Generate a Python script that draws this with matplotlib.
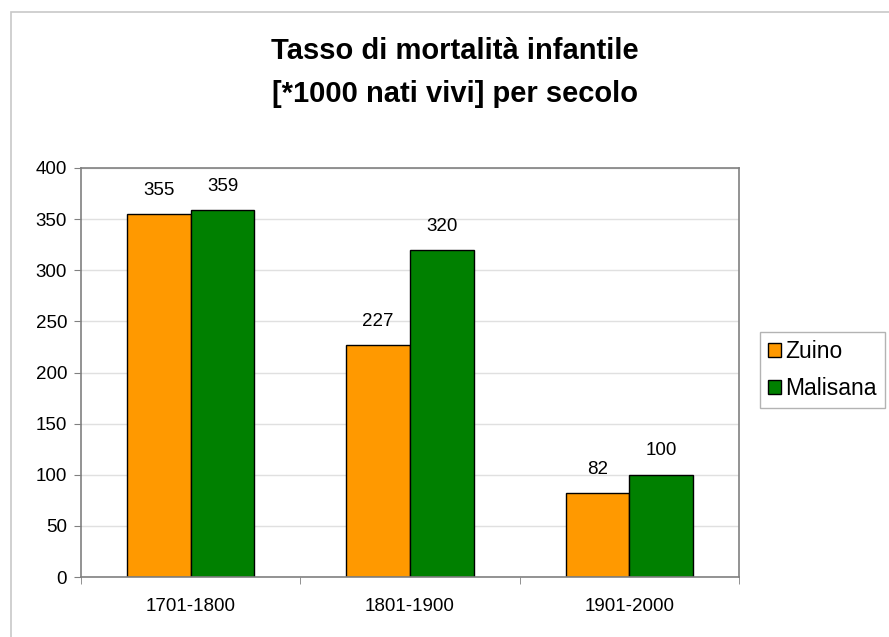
import matplotlib
matplotlib.use("Agg")
import matplotlib.pyplot as plt
import numpy as np
from matplotlib.patches import Rectangle

plt.rcParams['font.family'] = ['Liberation Sans', 'DejaVu Sans']

categories = ["1701-1800", "1801-1900", "1901-2000"]
series_names = ["Zuino", "Malisana"]
zuino = [355, 227, 82]
malisana = [359, 320, 100]
yticks = [0, 50, 100, 150, 200, 250, 300, 350, 400]
colors = ["#FF9900", "#008000"]

fig = plt.figure(figsize=(8.89, 6.37), dpi=100)
fig.patch.set_facecolor("white")
# outer chart border
fig.add_artist(Rectangle((11/889, -0.05), 1.1, (637-12)/637 + 0.05, transform=fig.transFigure,
                         fill=False, edgecolor="#c8c8c8", linewidth=1.2))

ax = fig.add_axes([81/889, 1 - 577/637, (739-81)/889, (577-168)/637])
x = np.arange(len(categories))
w = 0.29
b1 = ax.bar(x - w/2, zuino, w, color=colors[0], edgecolor="black", linewidth=1, label=series_names[0])
b2 = ax.bar(x + w/2, malisana, w, color=colors[1], edgecolor="black", linewidth=1, label=series_names[1])
for bars, vals in ((b1, zuino), (b2, malisana)):
    for r, v in zip(bars, vals):
        ax.annotate(str(v), (r.get_x() + r.get_width()/2, v), xytext=(0, 11),
                    textcoords="offset points", ha="center", va="bottom", fontsize=13.5)

ax.set_xlim(-0.5, len(categories) - 0.5)
ax.set_ylim(0, 400)
ax.set_yticks(yticks)
ax.set_yticklabels([str(t) for t in yticks], fontsize=13.5)
ax.set_xticks(x)
ax.set_xticklabels(categories, fontsize=13.5)
ax.tick_params(axis="x", length=0, pad=15)
ax.tick_params(axis="y", length=5, color="#808080", pad=5)
# category boundary ticks
ax.set_xticks(np.arange(-0.5, len(categories)), minor=True)
ax.tick_params(axis="x", which="minor", length=5, color="#808080")
ax.grid(axis="y", color="#e0e0e0", linewidth=1)
ax.set_axisbelow(True)
for s in ax.spines.values():
    s.set_color("#808080")
    s.set_linewidth(1.2)

fig.text(455/889, 1 - 51/637, "Tasso di mortalità infantile", ha="center", va="center",
         fontsize=21, fontweight="bold")
fig.text(455/889, 1 - 94/637, "[*1000 nati vivi] per secolo", ha="center", va="center",
         fontsize=21, fontweight="bold")

leg = fig.legend(handles=[b1, b2], loc="upper left", bbox_to_anchor=(760/889, 1 - 332/637),
                 fontsize=16.5, frameon=True, fancybox=False, handlelength=0.55, handleheight=0.55,
                 handletextpad=0.2, borderpad=0.35, labelspacing=0.6, borderaxespad=0)
leg.get_frame().set_edgecolor("#a0a0a0")
leg.get_frame().set_linewidth(1)

fig.savefig("out.png", dpi=100)
